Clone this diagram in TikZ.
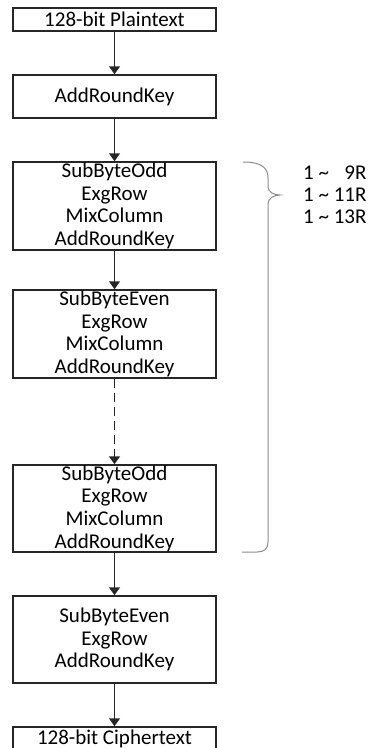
\documentclass[tikz,border=0pt]{standalone}
\usepackage{fontspec}
\setmainfont{Carlito}
\usetikzlibrary{arrows.meta,positioning}

\begin{document}
\begin{tikzpicture}[
  x=1pt, y=-1pt,
  stage/.style={draw=black!85, line width=1.5pt, minimum width=203pt, inner sep=0pt, align=center, font=\fontsize{21}{22.7}\selectfont},
  flow/.style={-{Triangle[width=11pt,length=8pt]}, line width=1.5pt, black!85},
  rnd/.style={font=\fontsize{21}{22}\selectfont, align=left, anchor=north west, inner sep=0pt}
]
\useasboundingbox (0,0) rectangle (371,748);
\node[stage, minimum height=23pt] (pt) at (114.5,19.5) {128-bit Plaintext};
\node[stage, minimum height=43pt] (ark) at (114.5,96.5) {AddRoundKey};
\node[stage, minimum height=88pt] (r1) at (114.5,206) {SubByteOdd\\ExgRow\\MixColumn\\AddRoundKey};
\node[stage, minimum height=88pt] (r2) at (114.5,334) {SubByteEven\\ExgRow\\MixColumn\\AddRoundKey};
\node[stage, minimum height=87pt] (r3) at (114.5,508.5) {SubByteOdd\\ExgRow\\MixColumn\\AddRoundKey};
\node[stage, minimum height=87pt] (fin) at (114.5,639.5) {SubByteEven\\ExgRow\\AddRoundKey};
\node[stage, minimum height=23pt] (ct) at (114.5,738.5) {128-bit Ciphertext};
\draw[flow] (pt) -- (ark);
\draw[flow] (ark) -- (r1);
\draw[flow] (r1) -- (r2);
\draw[flow, dash pattern=on 9pt off 5pt] (r2) -- (r3);
\draw[flow] (r3) -- (fin);
\draw[flow] (fin) -- (ct);
% brace over the repeated rounds
\draw[black!45, line width=1pt] (243,162) .. controls (262,162) and (268,168) .. (268,178) -- (268,187)
  .. controls (268,192) and (274,195) .. (280,195) .. controls (274,195) and (268,198) .. (268,204)
  -- (268,542) .. controls (268,549) and (264,552) .. (257,552) -- (242,552);
\node[rnd] (rounds) at (303,166) {1 \textasciitilde\ \phantom{1}9R\\1 \textasciitilde\ 11R\\1 \textasciitilde\ 13R};
\end{tikzpicture}
\end{document}
